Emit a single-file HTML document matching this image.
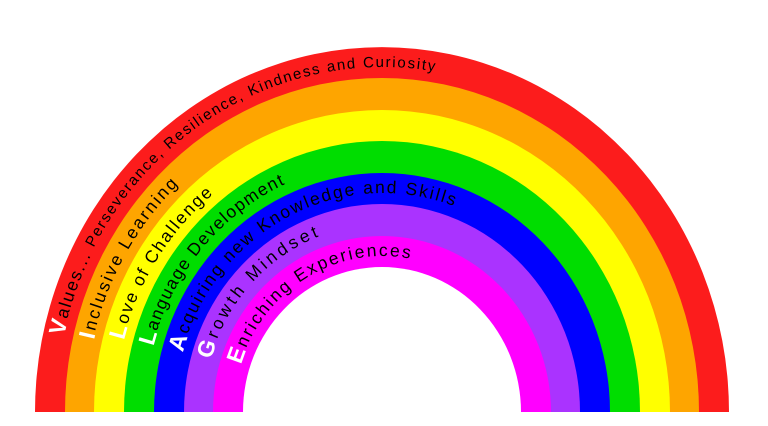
<!DOCTYPE html>
<html><head><meta charset="utf-8"><style>
html,body{margin:0;padding:0;background:#fff;width:768px;height:426px;overflow:hidden}
text{font-family:"Liberation Sans",sans-serif;font-size:17.5px;fill:#000}
.c{fill:#fff;font-weight:bold;font-size:23px}
</style></head><body>
<svg width="768" height="426" viewBox="0 0 768 426" xmlns="http://www.w3.org/2000/svg">
<defs>
<path id="p1" d="M50,412 A333,349 0 0 1 716,412"/>
<path id="p2" d="M80,412 A303,318 0 0 1 686,412"/>
<path id="p3" d="M109,412 A274,286 0 0 1 657,412"/>
<path id="p4" d="M139,412 A244,255 0 0 1 627,412"/>
<path id="p5" d="M169,412 A214,224 0 0 1 597,412"/>
<path id="p6" d="M198,412 A185,193 0 0 1 568,412"/>
<path id="p7" d="M228,412 A155,161 0 0 1 538,412"/>
</defs>
<path d="M35,412 A347,365 0 0 1 729,412Z" fill="#fc1c1c"/>
<path d="M65,412 A317,334 0 0 1 699,412Z" fill="#fea500"/>
<path d="M94,412 A288,302 0 0 1 670,412Z" fill="#ffff00"/>
<path d="M124,412 A258,271 0 0 1 640,412Z" fill="#00dd00"/>
<path d="M154,412 A228,239 0 0 1 610,412Z" fill="#0000ff"/>
<path d="M184,412 A198,208 0 0 1 580,412Z" fill="#aa33ff"/>
<path d="M213,412 A169,176 0 0 1 551,412Z" fill="#ff00ff"/>
<path d="M243,412 A139,145 0 0 1 521,412Z" fill="#fff"/>
<rect x="0" y="412" width="768" height="14" fill="#fff"/>
<g dominant-baseline="middle">
<text><textPath href="#p1" startOffset="78" textLength="510" lengthAdjust="spacing"><tspan class="c">V</tspan>alues... <tspan font-size="15">Perseverance, Resilience, Kindness and Curiosity</tspan></textPath></text>
<text><textPath href="#p2" startOffset="74" textLength="182" lengthAdjust="spacing"><tspan class="c">I</tspan>nclusive Learning</textPath></text>
<text><textPath href="#p3" startOffset="74" textLength="177" lengthAdjust="spacing"><tspan class="c">L</tspan>ove of Challenge</textPath></text>
<text><textPath href="#p4" startOffset="68" textLength="220" lengthAdjust="spacing"><tspan class="c">L</tspan>anguage Development</textPath></text>
<text><textPath href="#p5" startOffset="62" textLength="356" lengthAdjust="spacing"><tspan class="c">A</tspan>cquiring new Knowledge and Skills</textPath></text>
<text><textPath href="#p6" startOffset="55" textLength="174" lengthAdjust="spacing"><tspan class="c">G</tspan>rowth Mindset</textPath></text>
<text><textPath href="#p7" startOffset="50" textLength="226" lengthAdjust="spacing"><tspan class="c">E</tspan>nriching Experiences</textPath></text>
</g>
</svg>
</body></html>
